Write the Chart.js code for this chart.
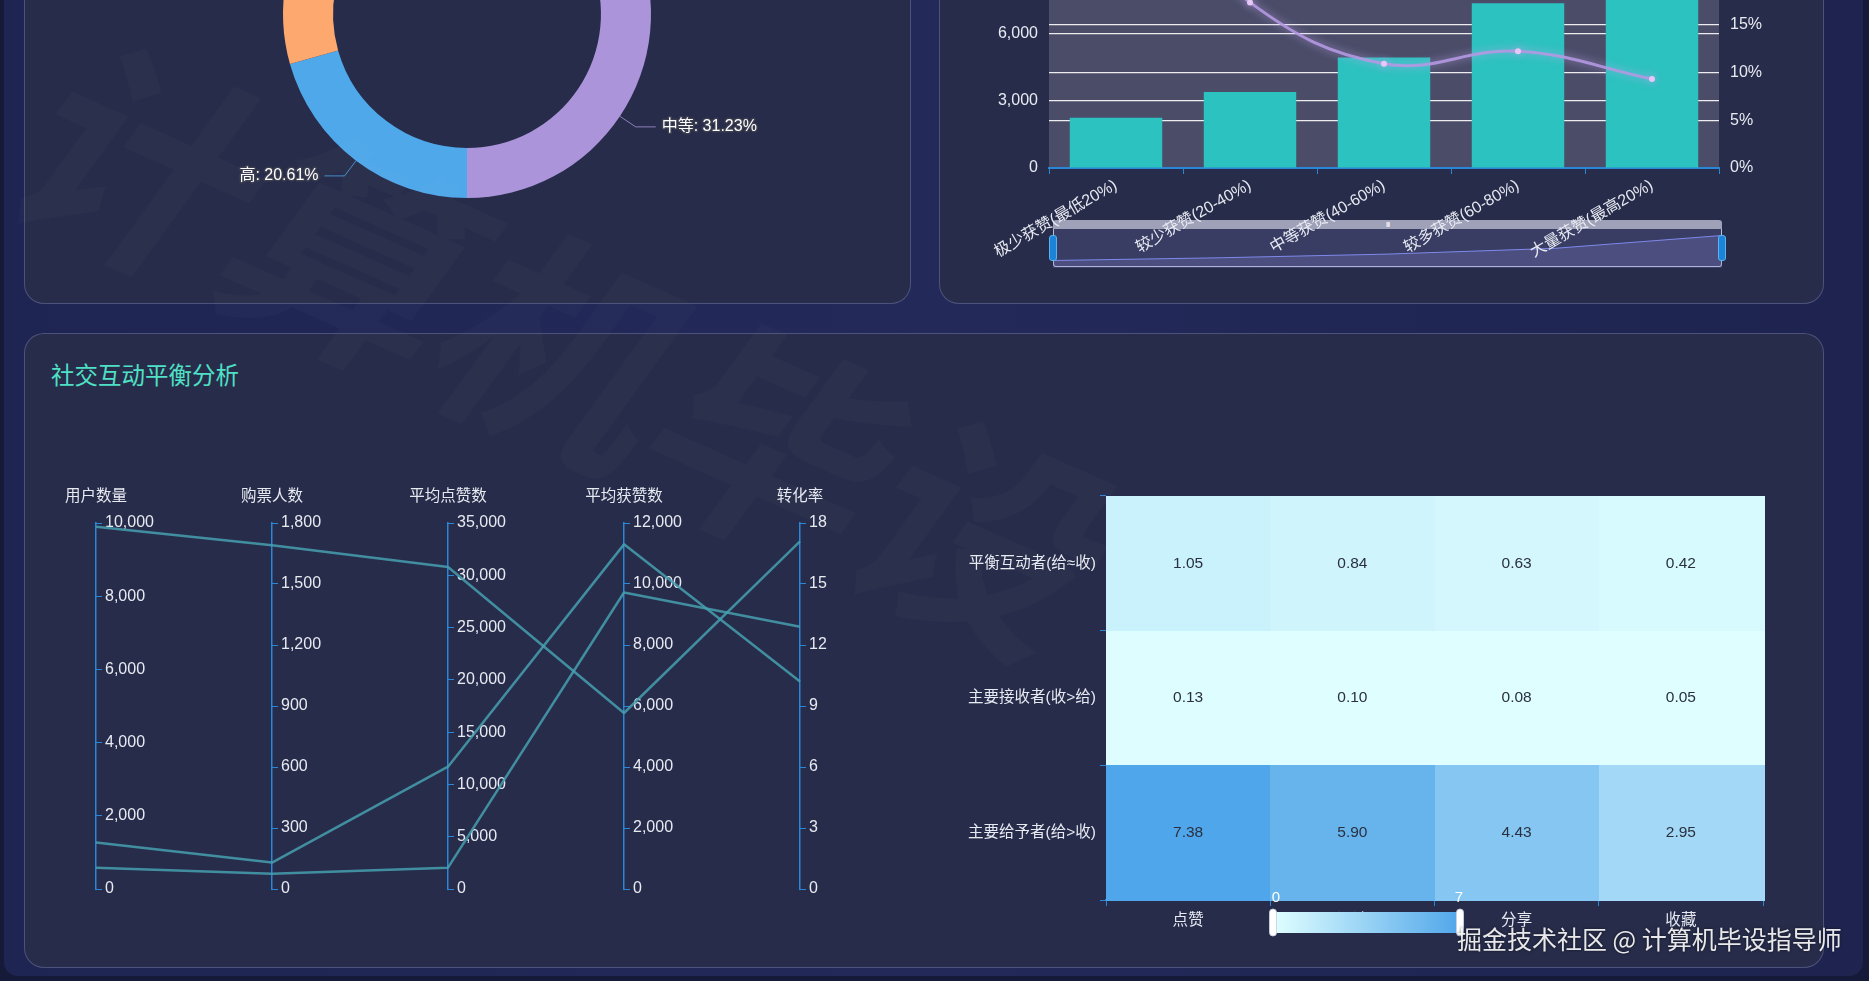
<!DOCTYPE html>
<html>
<head>
<meta charset="utf-8">
<title>社交互动平衡分析</title>
<script src="https://cdn.jsdelivr.net/npm/chart.js@4.4.1/dist/chart.umd.min.js"></script>
<style>
  html, body { margin: 0; padding: 0; }
  body {
    width: 1869px; height: 981px; overflow: hidden; position: relative;
    background: #151a38;
    font-family: "Liberation Sans", "Noto Sans CJK SC", sans-serif;
  }
  .frame {
    position: absolute; left: 4px; top: -40px; width: 1859px; height: 1016px;
    border-radius: 14px;
    background: linear-gradient(90deg, #1f2552 0%, #232959 50%, #1e244f 100%);
  }
  .panel {
    position: absolute; box-sizing: border-box; border-radius: 20px;
    background: #272c4a; border: 1px solid rgba(112, 120, 172, 0.5);
  }
  .title {
    position: absolute; left: 51px; top: 357px; font-size: 23.5px; color: #4fe0c6;
    font-family: "Noto Sans CJK SC", sans-serif;
  }
  canvas { position: absolute; }
  .zoom-band {
    position: absolute; left: 1053px; top: 220px; width: 669px; height: 9px;
    background: #9ea1b8; border-radius: 3px 3px 0 0;
    color: #fff; font-size: 8px; line-height: 9px; text-align: center; letter-spacing: -1px;
  }
  .zoom-box {
    position: absolute; left: 1053px; top: 229px; width: 669px; height: 38px; box-sizing: border-box;
    border: 1px solid rgba(220, 224, 245, 0.8); border-top: 0; border-radius: 0 0 3px 3px;
    background: rgba(92, 94, 150, 0.35);
  }
  .handle {
    position: absolute; top: 235px; width: 8px; height: 26px; border-radius: 3px;
    background: #1b84d6; border: 1px solid #5fb0f0; box-sizing: border-box;
  }
  .credit {
    position: absolute; left: 1457px; top: 920px; font-size: 25px; color: rgba(255,255,255,0.9);
    font-family: "Noto Sans CJK SC", sans-serif; text-shadow: 0 0 3px rgba(0,0,0,0.6);
  }
  .bgmark {
    position: absolute; left: 150px; top: -30px; font-size: 230px; font-weight: bold;
    color: rgba(255,255,255,0.016); transform: rotate(24deg) skewX(-12deg); transform-origin: left top;
    white-space: nowrap; font-family: "Noto Sans CJK SC", sans-serif; pointer-events: none;
  }
</style>
</head>
<body>
<div class="frame"></div>
<div class="panel" style="left:24px; top:-100px; width:887px; height:404px;"></div>
<div class="panel" style="left:939px; top:-100px; width:885px; height:404px;"></div>
<div class="panel" style="left:24px; top:333px; width:1800px; height:635px;"></div>
<div class="title">社交互动平衡分析</div>

<canvas id="chart-level" width="800" height="400" style="left:67px; top:-186px;"></canvas>

<div class="zoom-band">III</div>
<div class="zoom-box"></div>
<canvas id="chart-shadow" width="669" height="40" style="left:1053px; top:228px;"></canvas>
<div class="handle" style="left:1049px;"></div>
<div class="handle" style="left:1718px;"></div>
<canvas id="chart-groups" width="885" height="490" style="left:939px; top:-200px;"></canvas>

<canvas id="chart-parallel" width="860" height="470" style="left:35px; top:460px;"></canvas>
<canvas id="chart-heat" width="880" height="490" style="left:930px; top:460px;"></canvas>

<div class="credit">掘金技术社区 @ 计算机毕设指导师</div>
<div class="bgmark">计算机毕设</div>

<script>
// Social interaction dashboard — donut, bar/line combo, parallel axes and heatmap

Chart.defaults.font.family = '"Liberation Sans", "Noto Sans CJK SC", sans-serif';
Chart.defaults.color = '#e8eaf2';
Chart.defaults.animation = false;
Chart.defaults.locale = 'en-US';
Chart.defaults.plugins.legend.display = false;
Chart.defaults.plugins.tooltip.enabled = false;

const FONT = '"Liberation Sans", "Noto Sans CJK SC", sans-serif';
const AXIS_BLUE = '#2a86d6';

// --- Data: interaction level share ---
const levelLabels = ['低', '中等', '高', '极高'];
const levelShares = [18.77, 31.23, 20.61, 29.39];
const levelColors = ['#5fd0b0', '#ab94d9', '#4fa8ea', '#fca86f'];

// --- Data: like groups ---
const likeGroups = ['极少获赞(最低20%)', '较少获赞(20-40%)', '中等获赞(40-60%)', '较多获赞(60-80%)', '大量获赞(最高20%)'];
const groupUsers = [2250, 3400, 4950, 7380, 12800];
const groupRate = [31.5, 17.3, 10.9, 12.2, 9.3];

// --- Data: parallel coordinates ---
const parAxes = ['用户数量', '购票人数', '平均点赞数', '平均获赞数', '转化率'];
const parMax = [10000, 1800, 35000, 12000, 18];
const parStep = [2000, 300, 5000, 2000, 3];
const parSeries = [
  [9900, 1690, 30800, 5770, 17.1],
  [1270, 130, 11700, 11300, 10.2],
  [580, 75, 2040, 9720, 12.9],
];

// --- Data: heatmap ---
const heatCols = ['点赞', '评论', '分享', '收藏'];
const heatRows = ['平衡互动者(给≈收)', '主要接收者(收>给)', '主要给予者(给>收)'];
const heatValues = [
  [1.05, 0.84, 0.63, 0.42],
  [0.13, 0.10, 0.08, 0.05],
  [7.38, 5.90, 4.43, 2.95],
];
const heatRange = [0, 7];
const heatLow = [224, 255, 255];
const heatHigh = [80, 166, 234];

// --- Level donut with outside labels ---
const donutLabels = {
  id: 'donutLabels',
  afterDatasetsDraw(chart) {
    const { ctx } = chart;
    const total = levelShares.reduce((a, b) => a + b, 0);
    chart.getDatasetMeta(0).data.forEach((arc, i) => {
      const mid = (arc.startAngle + arc.endAngle) / 2;
      const cos = Math.cos(mid), sin = Math.sin(mid);
      const x0 = arc.x + cos * arc.outerRadius, y0 = arc.y + sin * arc.outerRadius;
      const x1 = arc.x + cos * (arc.outerRadius + 19), y1 = arc.y + sin * (arc.outerRadius + 19);
      const dir = cos >= 0 ? 1 : -1;
      const x2 = x1 + dir * 20;
      ctx.save();
      ctx.strokeStyle = levelColors[i];
      ctx.globalAlpha = 0.8;
      ctx.lineWidth = 1;
      ctx.beginPath();
      ctx.moveTo(x0, y0);
      ctx.lineTo(x1, y1);
      ctx.lineTo(x2, y1);
      ctx.stroke();
      ctx.globalAlpha = 1;
      const text = levelLabels[i] + ': ' + (levelShares[i] / total * 100).toFixed(2) + '%';
      ctx.font = '16px ' + FONT;
      ctx.textAlign = dir > 0 ? 'left' : 'right';
      ctx.textBaseline = 'middle';
      ctx.lineJoin = 'round';
      ctx.lineWidth = 3;
      ctx.strokeStyle = '#3a3d4e';
      ctx.strokeText(text, x2 + dir * 6, y1);
      ctx.fillStyle = '#ffffff';
      ctx.fillText(text, x2 + dir * 6, y1);
      ctx.restore();
    });
  },
};

new Chart(document.getElementById('chart-level'), {
  type: 'doughnut',
  data: {
    labels: levelLabels,
    datasets: [{ data: levelShares, backgroundColor: levelColors, borderWidth: 0 }],
  },
  options: {
    responsive: false,
    cutout: '72.8%',
    layout: { padding: { left: 216, right: 216, top: 16, bottom: 16 } },
  },
  plugins: [donutLabels],
});

// --- Like groups: bars + rate line ---
const plotBg = {
  id: 'plotBg',
  beforeDraw(chart) {
    const { ctx, chartArea: a } = chart;
    ctx.save();
    ctx.fillStyle = '#4a4c68';
    ctx.fillRect(a.left, a.top, a.right - a.left, a.bottom - a.top);
    ctx.restore();
  },
  beforeDatasetDraw(chart, args) {
    if (args.index === 0) {
      chart.ctx.save();
      chart.ctx.shadowColor = 'rgba(200,170,245,0.8)';
      chart.ctx.shadowBlur = 8;
    }
  },
  afterDatasetDraw(chart, args) {
    if (args.index === 0) chart.ctx.restore();
  },
};

const whiteGrid = ctx => (ctx.tick && ctx.tick.value === 0 ? 'rgba(0,0,0,0)' : 'rgba(255,255,255,0.9)');

new Chart(document.getElementById('chart-groups'), {
  type: 'bar',
  data: {
    labels: likeGroups,
    datasets: [
      {
        type: 'line',
        data: groupRate,
        yAxisID: 'y1',
        order: 0,
        borderColor: 'rgba(180,152,226,0.9)',
        borderWidth: 3,
        tension: 0.4,
        pointRadius: 3,
        pointBorderWidth: 0,
        pointBackgroundColor: '#e6c8f6',
      },
      {
        data: groupUsers,
        yAxisID: 'y',
        order: 1,
        backgroundColor: '#2cc2bf',
        barPercentage: 0.69,
        categoryPercentage: 1,
      },
    ],
  },
  options: {
    responsive: false,
    layout: { padding: { top: 33 } },
    scales: {
      x: {
        grid: { offset: true, drawOnChartArea: false, color: AXIS_BLUE, tickLength: 6 },
        border: { color: AXIS_BLUE, width: 2 },
        ticks: { minRotation: 30, maxRotation: 30, autoSkip: false, padding: 2, font: { size: 16 } },
        afterFit(s) { s.height = 122; },
      },
      y: {
        position: 'left',
        min: 0,
        max: 15000,
        ticks: { stepSize: 3000, padding: 11, font: { size: 16 } },
        grid: { color: whiteGrid, drawTicks: false, lineWidth: 1.2 },
        border: { display: false },
        afterFit(s) { s.width = 110; },
      },
      y1: {
        position: 'right',
        min: 0,
        max: 35,
        ticks: { stepSize: 5, padding: 11, font: { size: 16 }, callback: v => v + '%' },
        grid: { color: whiteGrid, drawTicks: false, lineWidth: 1.2 },
        border: { display: false },
        afterFit(s) { s.width = 105; },
      },
    },
  },
  plugins: [plotBg],
});

// data-zoom shadow under the bar chart
new Chart(document.getElementById('chart-shadow'), {
  type: 'line',
  data: {
    labels: likeGroups,
    datasets: [{
      data: groupUsers,
      borderColor: 'rgba(130,140,240,0.95)',
      borderWidth: 1,
      pointRadius: 0,
      tension: 0,
      fill: 'start',
      backgroundColor: 'rgba(140,142,225,0.22)',
    }],
  },
  options: {
    responsive: false,
    layout: { padding: 0 },
    scales: {
      x: { display: false },
      y: { display: false, min: -915, max: 15965 },
    },
  },
});

// --- Parallel coordinates ---
const parScales = { x: { display: false } };
parAxes.forEach((name, i) => {
  parScales['p' + i] = {
    type: 'linear',
    axis: 'y',
    position: 'left',
    weight: parAxes.length - i,
    min: 0,
    max: parMax[i],
    ticks: { stepSize: parStep[i], mirror: true, padding: 9, font: { size: 16 } },
    grid: { drawOnChartArea: false, tickLength: -6, color: AXIS_BLUE },
    border: { color: AXIS_BLUE, width: 1.5 },
    afterFit(s) { s.width = i === 0 ? 61 : 176; },
  };
});

const parLines = {
  id: 'parLines',
  afterDraw(chart) {
    const { ctx } = chart;
    ctx.save();
    ctx.strokeStyle = 'rgba(70,160,176,0.85)';
    ctx.lineWidth = 2.5;
    ctx.lineJoin = 'round';
    parSeries.forEach(row => {
      ctx.beginPath();
      row.forEach((v, i) => {
        const s = chart.scales['p' + i];
        const y = s.getPixelForValue(v);
        if (i === 0) ctx.moveTo(s.right, y); else ctx.lineTo(s.right, y);
      });
      ctx.stroke();
    });
    ctx.fillStyle = '#e8eaf2';
    ctx.font = '15.5px ' + FONT;
    ctx.textAlign = 'center';
    ctx.textBaseline = 'middle';
    parAxes.forEach((name, i) => {
      const s = chart.scales['p' + i];
      ctx.fillText(name, s.right, s.top - 26);
    });
    ctx.restore();
  },
};

new Chart(document.getElementById('chart-parallel'), {
  type: 'line',
  data: { labels: parAxes, datasets: [] },
  options: {
    responsive: false,
    layout: { padding: { top: 63, bottom: 41, left: 0, right: 0 } },
    scales: parScales,
  },
  plugins: [parLines],
});

// --- Heatmap ---
function heatColor(v) {
  const t = Math.min(Math.max((v - heatRange[0]) / (heatRange[1] - heatRange[0]), 0), 1);
  const c = heatLow.map((lo, k) => Math.round(lo + (heatHigh[k] - lo) * t));
  return 'rgb(' + c.join(',') + ')';
}

const heatPoints = [];
heatRows.forEach((r, ri) => heatCols.forEach((c, ci) => heatPoints.push({ x: c, y: r, v: heatValues[ri][ci] })));

const heatCells = {
  id: 'heatCells',
  beforeDatasetsDraw(chart) {
    const { ctx } = chart;
    const xs = chart.scales.x, ys = chart.scales.y;
    const w = xs.width / heatCols.length, h = ys.height / heatRows.length;
    ctx.save();
    chart.getDatasetMeta(0).data.forEach((pt, k) => {
      const d = heatPoints[k];
      ctx.fillStyle = heatColor(d.v);
      ctx.fillRect(Math.round(pt.x - w / 2), Math.round(pt.y - h / 2), Math.ceil(w) + 1, Math.ceil(h) + 1);
    });
    ctx.fillStyle = '#2a3040';
    ctx.font = '15.5px ' + FONT;
    ctx.textAlign = 'center';
    ctx.textBaseline = 'middle';
    chart.getDatasetMeta(0).data.forEach((pt, k) => {
      ctx.fillText(heatPoints[k].v.toFixed(2), pt.x, pt.y);
    });
    ctx.restore();
  },
  afterDraw(chart) {
    // continuous visual map under the grid
    const { ctx } = chart;
    const x0 = 343, x1 = 530, y0 = 452, y1 = 473;
    ctx.save();
    const g = ctx.createLinearGradient(x0, 0, x1, 0);
    g.addColorStop(0, heatColor(heatRange[0]));
    g.addColorStop(1, heatColor(heatRange[1]));
    ctx.fillStyle = g;
    ctx.beginPath();
    ctx.roundRect(x0, y0, x1 - x0, y1 - y0, 4);
    ctx.fill();
    ctx.fillStyle = '#ffffff';
    ctx.strokeStyle = 'rgba(200,210,230,0.9)';
    [x0, x1].forEach(x => {
      ctx.beginPath();
      ctx.roundRect(x - 3.5, y0 - 3, 7, y1 - y0 + 6, 3.5);
      ctx.fill();
      ctx.stroke();
    });
    ctx.font = '15px ' + FONT;
    ctx.textAlign = 'center';
    ctx.textBaseline = 'middle';
    ctx.fillText(String(heatRange[0]), x0 + 3, 438);
    ctx.fillText(String(heatRange[1]), x1 - 1, 438);
    ctx.restore();
  },
};

new Chart(document.getElementById('chart-heat'), {
  type: 'scatter',
  data: {
    datasets: [{ data: heatPoints, pointRadius: 0 }],
  },
  options: {
    responsive: false,
    layout: { padding: { top: 36, right: 47 } },
    scales: {
      x: {
        type: 'category',
        labels: heatCols,
        offset: true,
        grid: { offset: true, drawOnChartArea: false, color: AXIS_BLUE, tickLength: 6 },
        border: { color: AXIS_BLUE, width: 1.5 },
        ticks: { padding: 5, font: { size: 15.5 } },
        afterFit(s) { s.height = 50; },
      },
      y: {
        type: 'category',
        labels: heatRows,
        offset: true,
        grid: { offset: true, drawOnChartArea: false, color: AXIS_BLUE, tickLength: 6 },
        border: { display: false },
        ticks: { padding: 4, font: { size: 15.5 } },
        afterFit(s) { s.width = 176; },
      },
    },
  },
  plugins: [heatCells],
});
</script>
</body>
</html>
